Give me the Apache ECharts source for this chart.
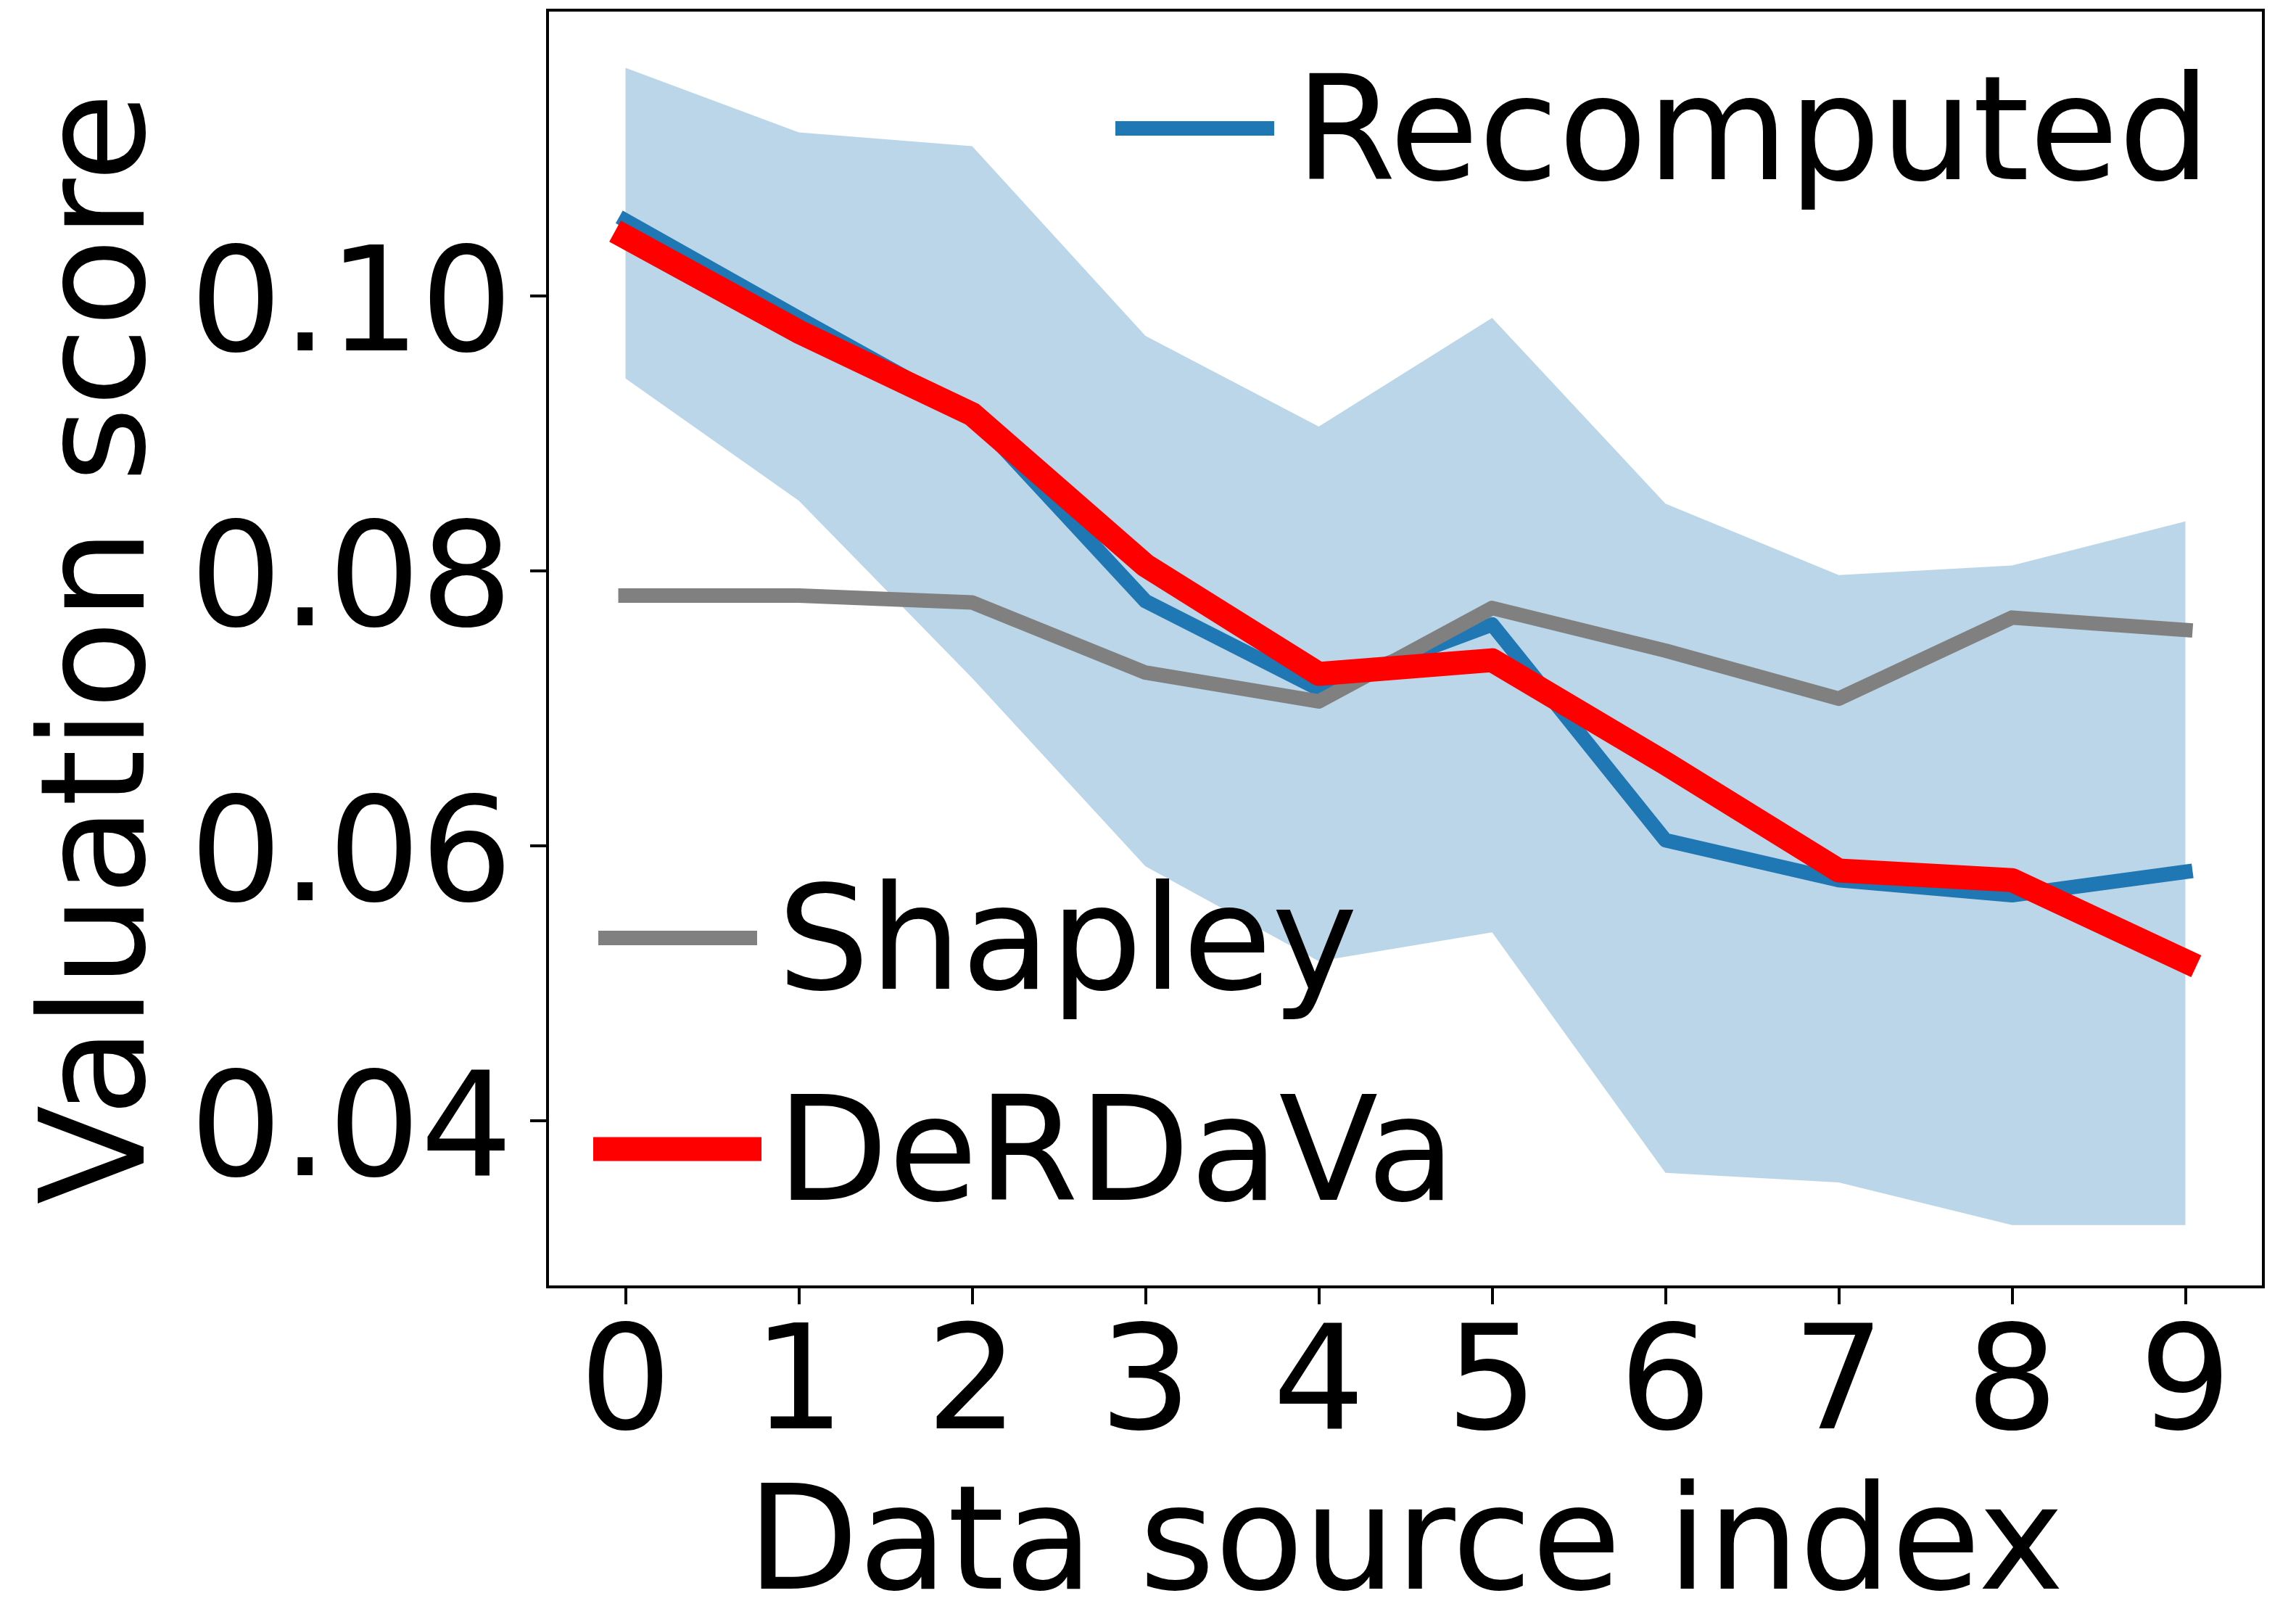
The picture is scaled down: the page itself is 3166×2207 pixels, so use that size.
<!DOCTYPE html>
<html>
<head>
<meta charset="utf-8">
<title>Valuation score</title>
<script src="https://cdn.jsdelivr.net/npm/echarts@6/dist/echarts.min.js"></script>
<style>
html, body { margin: 0; padding: 0; background: #fff; }
#chart { width: 3166px; height: 2207px; }
</style>
</head>
<body>
<div id="chart"></div>
<script>
// data source index
var sourceIndex = [0, 1, 2, 3, 4, 5, 6, 7, 8, 9];
var yTicks = [0.04, 0.06, 0.08, 0.10];

var recomputed = [0.1055, 0.0984, 0.0914, 0.0778, 0.0714, 0.0761, 0.0604, 0.0575, 0.0564, 0.0581];
var recomputedUpper = [0.1166, 0.1119, 0.1109, 0.0971, 0.0905, 0.0984, 0.0849, 0.0797, 0.0804, 0.0836];
var recomputedLower = [0.0940, 0.0851, 0.0722, 0.0585, 0.0516, 0.0537, 0.0362, 0.0355, 0.0324, 0.0324];
var shapley = [0.0782, 0.0782, 0.0777, 0.0726, 0.0705, 0.0773, 0.0742, 0.0707, 0.0766, 0.0757];
var derdava = [0.1043, 0.0974, 0.0914, 0.0804, 0.0725, 0.0735, 0.0660, 0.0582, 0.0575, 0.0516];

function pairs(values) {
	return sourceIndex.map(function (x, i) { return [x, values[i]]; });
}

function drawBand(params, api) {
	if (params.dataIndex !== 0) return;
	var pts = [];
	for (var i = 0; i < sourceIndex.length; i++) {
		pts.push(api.coord([sourceIndex[i], recomputedUpper[i]]));
	}
	for (var j = sourceIndex.length - 1; j >= 0; j--) {
		pts.push(api.coord([sourceIndex[j], recomputedLower[j]]));
	}
	return {
		type: 'polygon',
		shape: { points: pts },
		style: { fill: 'rgba(31,119,180,0.3)' }
	};
}

var font = 'DejaVu Sans';
var myChart = echarts.init(document.getElementById('chart'), null, { renderer: 'canvas' });

// legend handle: bar at the top of the icon box, so the text sits a bit lower (like matplotlib)
function legendAt(name, left, top, w, h, pad) {
	var boxH = h + 36;
	return {
		data: [{ name: name, icon: 'path://M0,0h' + w + 'v' + h + 'h-' + w + 'zM0,' + boxH + 'L0.01,' + boxH }],
		left: left,
		top: top,
		padding: 0,
		itemWidth: w,
		itemHeight: boxH,
		selectedMode: false,
		textStyle: {
			fontFamily: font,
			fontSize: 200,
			lineHeight: 200,
			color: '#000',
			padding: [0, 0, 0, pad]
		}
	};
}

var option = {
	animation: false,
	backgroundColor: '#fff',
	grid: {
		left: 755,
		right: 45,
		top: 14,
		bottom: 433,
		outerBoundsMode: 'none',
		containLabel: false,
		show: true,
		borderColor: '#000',
		borderWidth: 4
	},
	legend: [
		legendAt('Recomputed', 1538, 95, 219, 20, 24),
		legendAt('Shapley', 825, 1211, 219, 20, 23),
		legendAt('DeRDaVa', 818, 1502, 232, 33, 16)
	],
	xAxis: {
		type: 'value',
		min: -0.45,
		max: 9.45,
		name: 'Data source index',
		nameLocation: 'middle',
		nameGap: 264,
		nameTextStyle: { fontFamily: font, fontSize: 200, color: '#000' },
		axisLine: { show: true, onZero: false, lineStyle: { color: '#000', width: 4 } },
		axisTick: { show: true, length: 24, lineStyle: { color: '#000', width: 4 }, customValues: sourceIndex },
		axisLabel: {
			fontFamily: font, fontSize: 200, color: '#000', margin: 43,
			customValues: sourceIndex
		},
		splitLine: { show: false }
	},
	yAxis: {
		type: 'value',
		min: 0.0279,
		max: 0.1208,
		name: 'Valuation score',
		nameLocation: 'middle',
		nameGap: 509,
		nameRotate: 90,
		nameTextStyle: { fontFamily: font, fontSize: 200, color: '#000' },
		axisLine: { show: true, onZero: false, lineStyle: { color: '#000', width: 4 } },
		axisTick: { show: true, length: 24, lineStyle: { color: '#000', width: 4 }, customValues: yTicks },
		axisLabel: {
			fontFamily: font, fontSize: 200, color: '#000', margin: 48,
			verticalAlign: 'top', lineHeight: 46,
			customValues: yTicks,
			formatter: function (v) { return v.toFixed(2); }
		},
		splitLine: { show: false }
	},
	series: [
		{
			name: 'band',
			type: 'custom',
			renderItem: drawBand,
			data: sourceIndex.map(function (x, i) { return [x, recomputedLower[i], recomputedUpper[i]]; }),
			encode: { x: 0, y: [1, 2] },
			z: 1
		},
		{
			name: 'Recomputed',
			type: 'line',
			data: pairs(recomputed),
			symbol: 'none',
			itemStyle: { color: '#1f77b4' },
			lineStyle: { color: '#1f77b4', width: 20, cap: 'square', join: 'round' },
			z: 2
		},
		{
			name: 'Shapley',
			type: 'line',
			data: pairs(shapley),
			symbol: 'none',
			itemStyle: { color: '#808080' },
			lineStyle: { color: '#808080', width: 20, cap: 'square', join: 'round' },
			z: 3
		},
		{
			name: 'DeRDaVa',
			type: 'line',
			data: pairs(derdava),
			symbol: 'none',
			itemStyle: { color: '#ff0000' },
			lineStyle: { color: '#ff0000', width: 33, cap: 'square', join: 'round' },
			z: 4
		}
	]
};
// 使用刚指定的配置项和数据显示图表。
myChart.setOption(option);
</script>
</body>
</html>
